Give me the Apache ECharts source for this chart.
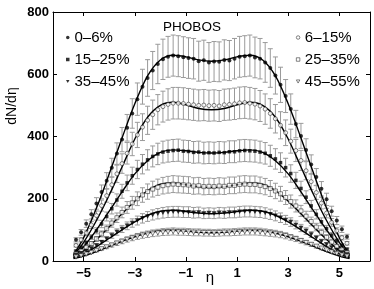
<!DOCTYPE html>
<html><head><meta charset="utf-8">
<script src="https://cdn.jsdelivr.net/npm/echarts@6/dist/echarts.min.js"></script>
<style>html,body{margin:0;padding:0;background:#fff}#c{width:374px;height:289px}</style>
</head><body><div id="c"></div>
<script>
const eta = [-5.3,-5.1,-4.9,-4.7,-4.5,-4.3,-4.1,-3.9,-3.7,-3.5,-3.3,-3.1,-2.9,-2.7,-2.5,-2.3,-2.1,-1.9,-1.7,-1.5,-1.3,-1.1,-0.9,-0.7,-0.5,-0.3,-0.1,
             0.1,0.3,0.5,0.7,0.9,1.1,1.3,1.5,1.7,1.9,2.1,2.3,2.5,2.7,2.9,3.1,3.3,3.5,3.7,3.9,4.1,4.3,4.5,4.7,4.9,5.1,5.3];
const c0_6 = [68,92,120,150,185,222,258,300,345,390,428,474,520,560,588,612,633,648,656,660,658,655,652,650,642,645,638,
              641,640,646,644,650,656,658,660,654,650,638,620,596,566,530,488,440,402,357,310,270,232,198,160,130,102,78];
const c6_15 = [50,68,90,116,146,178,210,245,280,313,346,376,405,430,452,470,486,496,503,507,507,506,504,502,500,501,499,
               500,498,502,503,505,508,509,507,504,498,488,474,457,436,412,385,355,323,290,255,220,186,154,124,97,75,57];
const c15_25 = [32,44,59,77,97,119,143,168,196,224,251,274,294,311,325,336,344,350,353,355,356,353,352,349,350,347,348,
                347,349,348,351,351,354,355,354,353,350,346,338,328,316,300,281,259,233,205,177,150,126,104,83,65,50,38];
const c25_35 = [23,32,43,56,71,87,104,122,139,156,172,187,200,212,223,231,237,242,245,247,246,245,244,241,242,239,240,
                239,241,240,243,243,246,247,246,246,243,239,233,225,216,204,191,177,161,144,127,109,92,76,61,47,36,27];
const c35_45 = [19,25,32,40,50,60,71,82,93,103,113,122,130,137,143,148,152,155,157,158,158,157,157,155,156,153,154,
                153,155,154,156,156,158,159,159,158,157,154,150,145,139,132,125,116,106,96,85,74,63,53,43,35,27,21];
const c45_55 = [13,17,22,27,33,39,45,51,57,63,69,74,79,83,86,89,91,93,94,95,94,94,93,92,92,91,91,
                90,91,92,92,93,94,95,95,95,94,92,90,88,85,81,76,71,65,59,53,47,41,35,29,24,19,15];
const fitEta = [-5.4,-5,-4.5,-4,-3.5,-3,-2.5,-2,-1.5,-1,-0.5,0,0.5,1,1.5,2,2.5,3,3.5,4,4.5,5,5.4];
const fit0_6 = [20,75,170,280,395,505,595,646,661,656,646,642,646,656,661,646,595,505,395,280,170,75,20];
const fit6_15 = [18,60,130,212,302,392,462,500,510,502,490,486,490,502,510,500,462,392,302,212,130,60,18];
const fit15_25 = [15,46,100,160,222,280,322,349,357,354,349,347,349,354,357,349,322,280,222,160,100,46,15];
const fit25_35 = [12,33,69,110,152,192,226,247,251,245,238,236,238,245,251,247,226,192,152,110,69,33,12];
const fit35_45 = [10,23,46,73,100,126,147,160,163,159,154,152,154,159,163,160,147,126,100,73,46,23,10];
const fit45_55 = [8,16,30,47,63,78,90,97,99,96,92,91,92,96,99,97,90,78,63,47,30,16,8];
const relErr = [0.10,0.10,0.10,0.11,0.11,0.12];
const names = ['0–6%','6–15%','15–25%','25–35%','35–45%','45–55%'];
const xTicks = [-5,-3,-1,1,3,5];
const xTickLabels = ['−5','−3','−1','1','3','5'];

const dataSets = [c0_6,c6_15,c15_25,c25_35,c35_45,c45_55];
const fitSets = [fit0_6,fit6_15,fit15_25,fit25_35,fit35_45,fit45_55];
const DOWN_TRI = 'path://M0,0L10,0L5,9Z';
const styles = [
  {symbol:'circle', size:4, open:false},
  {symbol:'circle', size:4, open:true},
  {symbol:'rect', size:3.5, open:false},
  {symbol:'rect', size:4, open:true},
  {symbol:DOWN_TRI, size:[5,4.5], open:false},
  {symbol:DOWN_TRI, size:[5,4.5], open:true}
];
const FONT = 'Liberation Sans, Arial, Helvetica, sans-serif';
const markStyle = (s) => s.open ? {color:'#fff', borderColor:'#222', borderWidth:0.7} : {color:'#000', borderWidth:0};
const series = [];
dataSets.forEach((vals, k) => {
  series.push({
    type:'custom', silent:true, z:1,
    data: vals.map((v,i)=>[eta[i], v*(1-relErr[k]), v*(1+relErr[k])]),
    encode:{x:0, y:[1,2]},
    renderItem:(params, api)=>{
      const a = api.coord([api.value(0), api.value(1)]);
      const b = api.coord([api.value(0), api.value(2)]);
      const w = 2.5, st = {stroke:'#9a9a9a', lineWidth:1};
      return {type:'group', children:[
        {type:'line', shape:{x1:a[0],y1:a[1],x2:b[0],y2:b[1]}, style:st},
        {type:'line', shape:{x1:a[0]-w,y1:a[1],x2:a[0]+w,y2:a[1]}, style:st},
        {type:'line', shape:{x1:b[0]-w,y1:b[1],x2:b[0]+w,y2:b[1]}, style:st}
      ]};
    }
  });
});
fitSets.forEach((vals) => {
  series.push({
    type:'line', silent:true, z:2, showSymbol:false, smooth:0.35,
    data: vals.map((v,i)=>[fitEta[i], v]),
    lineStyle:{color:'#000', width:1.4}
  });
});
dataSets.forEach((vals, k) => {
  const s = styles[k];
  series.push({
    name:names[k], type:'scatter', z:3,
    symbol:s.symbol, symbolSize:s.size,
    data: vals.map((v,i)=>[eta[i], v]),
    itemStyle: markStyle(s)
  });
});

const legendItem = (k) => ({name:names[k], icon:styles[k].symbol, itemStyle:markStyle(styles[k])});
const legendCommon = {
  orient:'vertical', itemWidth:3.5, itemHeight:3.5, itemGap:7, top:25,
  textStyle:{fontSize:15, lineHeight:15, fontFamily:FONT, color:'#000'},
  selectedMode:false
};

const chart = echarts.init(document.getElementById('c'));
chart.setOption({
  animation:false,
  backgroundColor:'#fff',
  grid:{left:53, right:4, top:12, bottom:28},
  legend:[
    Object.assign({}, legendCommon, {left:61, data:[legendItem(0),legendItem(2),legendItem(4)]}),
    Object.assign({}, legendCommon, {left:291, data:[legendItem(1),legendItem(3),legendItem(5)]})
  ],
  xAxis:[
    {type:'value', min:-6.2, max:6.2, position:'bottom',
     axisLine:{onZero:false, lineStyle:{color:'#000', width:1}},
     axisTick:{inside:true, length:4, customValues:xTicks, lineStyle:{color:'#000'}},
     axisLabel:{customValues:xTicks, margin:6, fontSize:13, fontWeight:'bold', fontFamily:FONT, color:'#000',
       formatter:(v)=>xTickLabels[xTicks.indexOf(Math.round(v))]},
     splitLine:{show:false}},
    {type:'value', min:-6.2, max:6.2, position:'top',
     axisLine:{onZero:false, lineStyle:{color:'#000', width:1}},
     axisTick:{inside:true, length:4, customValues:xTicks, lineStyle:{color:'#000'}},
     axisLabel:{show:false}, splitLine:{show:false}}
  ],
  yAxis:[
    {type:'value', min:0, max:800, interval:200, position:'left',
     axisLine:{show:true, onZero:false, lineStyle:{color:'#000', width:1}},
     axisTick:{show:true, inside:true, length:4, lineStyle:{color:'#000'}},
     axisLabel:{margin:4, fontSize:13, fontWeight:'bold', fontFamily:FONT, color:'#000'},
     splitLine:{show:false}},
    {type:'value', min:0, max:800, interval:200, position:'right',
     axisLine:{show:true, onZero:false, lineStyle:{color:'#000', width:1}},
     axisTick:{show:true, inside:true, length:4, lineStyle:{color:'#000'}},
     axisLabel:{show:false}, splitLine:{show:false}}
  ],
  graphic:[
    {type:'text', x:192, y:27, style:{text:'PHOBOS', textAlign:'center', textVerticalAlign:'middle', fontSize:13.5, fontFamily:FONT, fill:'#000'}},
    {type:'text', x:210, y:278, style:{text:'η', textAlign:'center', textVerticalAlign:'middle', fontSize:15, fontFamily:FONT, fill:'#000'}},
    {type:'text', x:12, y:106, rotation:Math.PI/2, style:{text:'dN/dη', textAlign:'center', textVerticalAlign:'middle', fontSize:14, fontFamily:FONT, fill:'#000'}}
  ],
  series:series
});
</script></body></html>
